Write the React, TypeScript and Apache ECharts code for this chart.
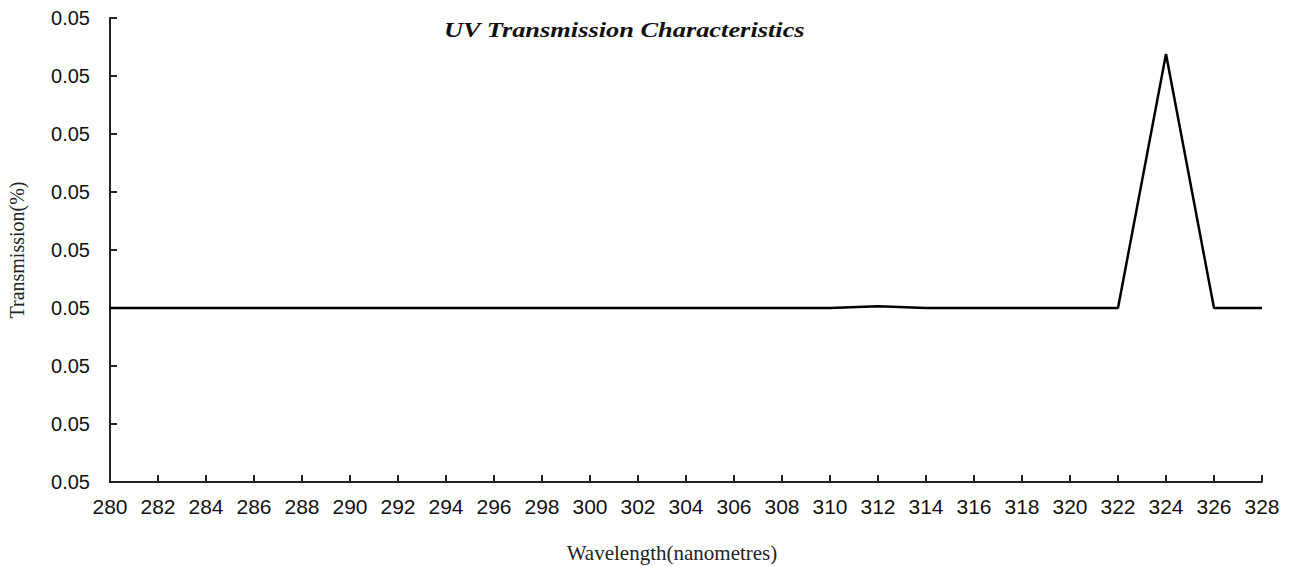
import React, { useEffect, useRef } from "react";
import * as echarts from "echarts";

const wavelengths = [280, 282, 284, 286, 288, 290, 292, 294, 296, 298, 300, 302, 304, 306, 308, 310, 312, 314, 316, 318, 320, 322, 324, 326, 328];
const transmission = [0.049, 0.049, 0.049, 0.049, 0.049, 0.049, 0.049, 0.049, 0.049, 0.049, 0.049, 0.049, 0.049, 0.049, 0.049, 0.049, 0.04903, 0.049, 0.049, 0.049, 0.049, 0.049, 0.05338, 0.049, 0.049];
const titleText = "UV Transmission Characteristics";

export default function App() {
  const ref = useRef<HTMLDivElement>(null);
  useEffect(() => {
    if (!ref.current) return;
    const chart = echarts.init(ref.current, null, { renderer: "svg" });
    chart.setOption({
      animation: false,
      backgroundColor: "#ffffff",
      graphic: [
        {
          type: "text",
          x: 444,
          y: 18,
          scaleX: 1.2,
          style: {
            text: titleText,
            fontFamily: "Liberation Serif",
            fontStyle: "italic",
            fontWeight: "bold",
            fontSize: 22,
            fill: "#111",
          },
        },
      ],
      grid: {
        left: 110,
        right: 28,
        top: 18,
        bottom: 84,
        containLabel: false,
        outerBoundsMode: "none",
      },
      xAxis: {
        type: "value",
        min: 280,
        max: 328,
        interval: 2,
        name: "Wavelength(nanometres)",
        nameLocation: "middle",
        nameGap: 60,
        nameTextStyle: {
          fontFamily: "Liberation Serif",
          fontSize: 21,
          color: "#222",
          padding: [0, 28, 0, 0],
        },
        axisLine: { lineStyle: { color: "#222", width: 2 } },
        axisTick: { inside: true, length: 7, lineStyle: { color: "#222", width: 2 } },
        axisLabel: { fontFamily: "Liberation Sans", fontSize: 21, color: "#111", margin: 14 },
        splitLine: { show: false },
      },
      yAxis: {
        type: "value",
        min: 0.046,
        max: 0.054,
        interval: 0.001,
        name: "Transmission(%)",
        nameLocation: "middle",
        nameGap: 83,
        nameTextStyle: { fontFamily: "Liberation Serif", fontSize: 20, color: "#222" },
        axisLine: { show: true, lineStyle: { color: "#222", width: 2 } },
        axisTick: { show: true, inside: true, length: 7, lineStyle: { color: "#222", width: 2 } },
        axisLabel: {
          fontFamily: "Liberation Sans",
          fontSize: 20,
          color: "#111",
          margin: 20,
          formatter: (v: number) => v.toFixed(2),
        },
        splitLine: { show: false },
      },
      series: [
        {
          type: "line",
          data: wavelengths.map((w, i) => [w, transmission[i]]),
          showSymbol: false,
          symbol: "none",
          lineStyle: { color: "#000", width: 2.5 },
        },
      ],
    });
    return () => chart.dispose();
  }, []);
  return (
    <div
      ref={ref}
      style={{ position: "fixed", left: 0, top: 0, width: 1290, height: 566 }}
    />
  );
}
